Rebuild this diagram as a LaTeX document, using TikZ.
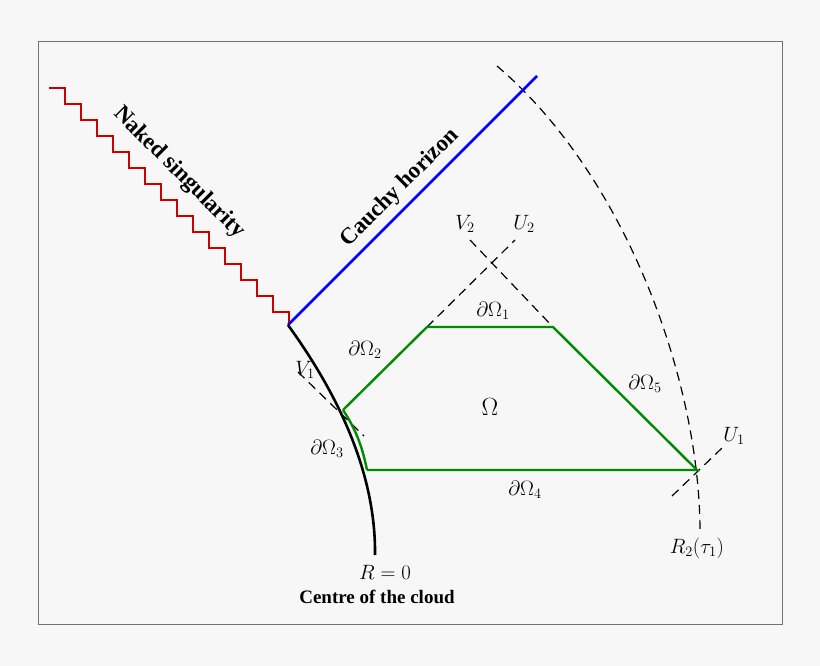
\documentclass[tikz,border=0pt]{standalone}
\usepackage{fontspec}
\setmainfont{Liberation Serif}
\begin{document}
\begin{tikzpicture}[x=1pt,y=-1pt,
  dsh/.style={dashed,dash pattern=on 9pt off 6pt,line width=1.2pt},
  grn/.style={draw=green!55!black,line width=2.4pt},
  lab/.style={font=\fontsize{20}{22}\selectfont,inner sep=1pt},
  bold/.style={font=\bfseries\fontsize{23}{25}\selectfont}]
\fill[black!3] (0,0) rectangle (820,666);
\useasboundingbox (0,0) rectangle (820,666);
\draw[black!55,line width=1pt] (38,42) rectangle (782,624);
% coordinates
\coordinate (S) at (288,325);
\coordinate (A) at (343,410);
\coordinate (B) at (427,327);
\coordinate (C) at (553,327);
\coordinate (D) at (697,470);
\coordinate (E) at (367,470);
% dashed lines
\draw[dsh] (497,66) .. controls (625,175) and (700,380) .. (700,532);
\draw[dsh] (298,372) -- (364,436);
\draw[dsh] (B) -- (515,240);
\draw[dsh] (470,240) -- (C);
\draw[dsh] (672,496) -- (722,448);
% staircase
\draw[red!80!black,line width=2.6pt] (49,88)
  \foreach \i in {0,...,14} { -- ++(16,0) -- ++(0,16) } coordinate (Z);
% cauchy
\draw[blue,line width=2.6pt] (S) -- (537,76);
% green
\draw[grn] (A) -- (B) -- (C) -- (D) -- (E);
\draw[grn] (A) .. controls (355,428) and (362,445) .. (E);
% black curve
\draw[black,line width=2.6pt] (S) .. controls (335,390) and (376,470) .. (375,555);
% labels
\node[bold,rotate=-45] (ns) at (179,173) {Naked singularity};
\node[bold,rotate=45] (ch) at (400,188) {Cauchy horizon};
\node[lab] (v2) at (465,224) {$V_2$};
\node[lab] (u2) at (524,224) {$U_2$};
\node[lab] (o1) at (493,311) {$\partial\Omega_1$};
\node[lab] (o2) at (365,350) {$\partial\Omega_2$};
\node[lab] (v1) at (305,370) {$V_1$};
\node[lab] (o3) at (327,449) {$\partial\Omega_3$};
\node[font=\fontsize{28}{30}\selectfont] (om) at (490,407) {$\Omega$};
\node[lab] (o5) at (645,384) {$\partial\Omega_5$};
\node[lab] (u1) at (734,436) {$U_1$};
\node[lab] (o4) at (525,490) {$\partial\Omega_4$};
\node[lab] (r2) at (697,548) {$R_2(\tau_1)$};
\node[lab] (r0) at (385,572) {$R=0$};
\node[font=\bfseries\fontsize{19}{21}\selectfont] (cc) at (377,597) {Centre of the cloud};
\end{tikzpicture}
\end{document}
